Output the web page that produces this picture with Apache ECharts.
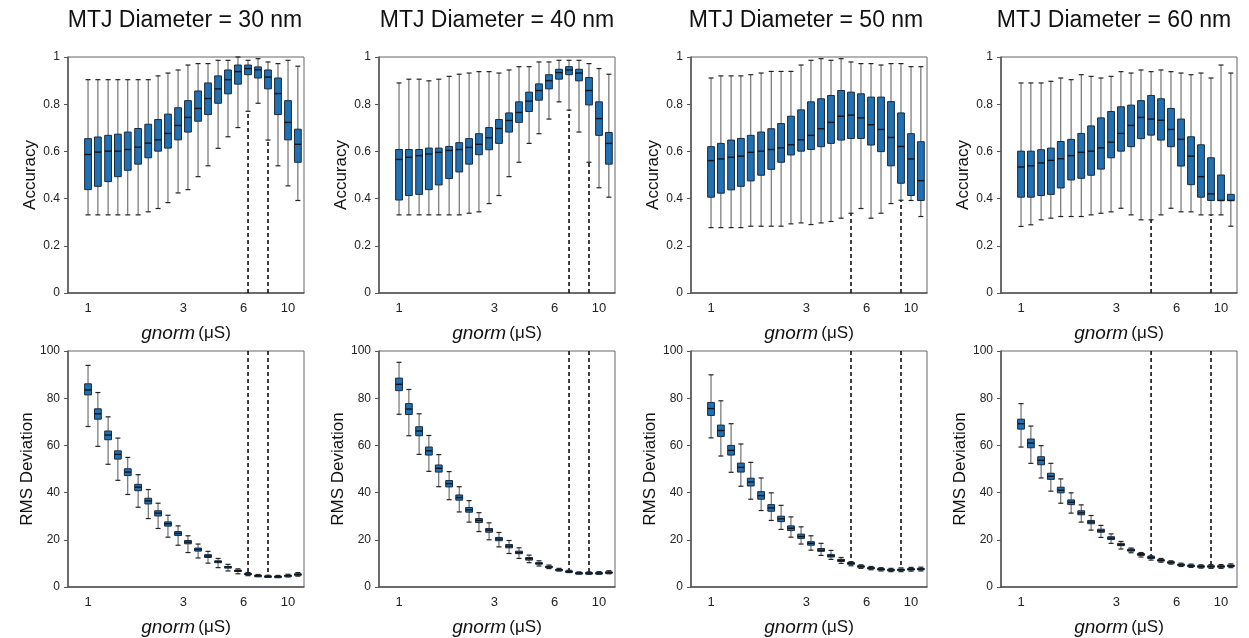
<!DOCTYPE html>
<html><head><meta charset="utf-8">
<script src="https://cdn.jsdelivr.net/npm/echarts@6/dist/echarts.min.js"></script>
<style>html,body{margin:0;padding:0;background:#fff}#c{width:1249px;height:638px}</style>
</head><body><div id="c"></div>
<script>
// g_norm values (µS), one per box
const gnorm = [1.00, 1.12, 1.26, 1.41, 1.58, 1.78, 2.00, 2.24, 2.51, 2.82, 3.16, 3.55, 3.98, 4.47, 5.01, 5.62, 6.31, 7.08, 7.94, 8.91, 10.0, 11.2];
const xTickValues = [1, 3, 6, 10];
const diameters = ['30', '40', '50', '60'];
// indices of boxes marked with dashed vertical lines, per diameter
const markedBoxes = [[16, 18], [17, 19], [14, 19], [13, 19]];

// Accuracy boxes: [low whisker, Q1, median, Q3, high whisker]
const acc30 = [[0.331,0.438,0.587,0.654,0.904],[0.331,0.452,0.597,0.661,0.904],[0.331,0.472,0.601,0.668,0.904],[0.331,0.493,0.601,0.673,0.904],[0.331,0.520,0.608,0.682,0.904],[0.331,0.546,0.618,0.697,0.904],[0.344,0.573,0.635,0.715,0.904],[0.358,0.601,0.649,0.735,0.920],[0.383,0.614,0.676,0.758,0.932],[0.424,0.649,0.710,0.785,0.945],[0.438,0.682,0.744,0.815,0.966],[0.493,0.728,0.782,0.856,0.972],[0.539,0.756,0.824,0.890,0.972],[0.613,0.804,0.865,0.920,0.986],[0.662,0.844,0.904,0.945,0.986],[0.701,0.885,0.938,0.966,1.0],[0.770,0.925,0.951,0.966,0.986],[0.804,0.911,0.946,0.958,0.993],[0.648,0.865,0.915,0.945,0.979],[0.539,0.756,0.845,0.911,0.972],[0.454,0.649,0.723,0.815,0.986],[0.392,0.554,0.630,0.694,0.961]];
const acc40 = [[0.331,0.394,0.566,0.608,0.890],[0.331,0.413,0.575,0.608,0.906],[0.331,0.418,0.582,0.608,0.906],[0.331,0.438,0.589,0.614,0.899],[0.331,0.458,0.596,0.614,0.906],[0.331,0.485,0.604,0.621,0.918],[0.331,0.513,0.608,0.637,0.927],[0.338,0.546,0.617,0.654,0.932],[0.344,0.586,0.630,0.675,0.938],[0.379,0.607,0.658,0.701,0.938],[0.413,0.634,0.697,0.735,0.932],[0.493,0.682,0.731,0.763,0.945],[0.554,0.723,0.765,0.810,0.959],[0.634,0.769,0.813,0.851,0.959],[0.675,0.817,0.858,0.886,0.979],[0.737,0.865,0.900,0.925,0.979],[0.810,0.906,0.934,0.948,0.986],[0.775,0.925,0.945,0.959,0.986],[0.682,0.899,0.932,0.948,0.986],[0.554,0.797,0.858,0.913,0.972],[0.446,0.668,0.739,0.810,0.951],[0.406,0.546,0.634,0.680,0.927]];
const acc50 = [[0.277,0.406,0.561,0.620,0.911],[0.277,0.423,0.568,0.634,0.920],[0.277,0.437,0.575,0.648,0.920],[0.277,0.452,0.580,0.655,0.920],[0.283,0.475,0.596,0.668,0.925],[0.283,0.499,0.601,0.682,0.932],[0.283,0.524,0.608,0.696,0.939],[0.283,0.554,0.615,0.718,0.939],[0.293,0.585,0.628,0.749,0.939],[0.297,0.601,0.649,0.776,0.966],[0.290,0.608,0.668,0.810,0.986],[0.297,0.620,0.696,0.823,0.993],[0.303,0.634,0.723,0.837,0.986],[0.317,0.648,0.749,0.858,0.993],[0.338,0.655,0.754,0.851,0.979],[0.358,0.655,0.742,0.844,0.972],[0.317,0.627,0.713,0.830,0.972],[0.338,0.599,0.693,0.830,0.966],[0.379,0.539,0.659,0.811,0.972],[0.393,0.465,0.621,0.763,0.972],[0.392,0.413,0.568,0.675,0.959],[0.324,0.392,0.476,0.641,0.959]];
const acc60 = [[0.282,0.406,0.534,0.601,0.890],[0.289,0.406,0.539,0.601,0.890],[0.310,0.413,0.551,0.607,0.890],[0.317,0.418,0.562,0.614,0.897],[0.324,0.445,0.569,0.642,0.911],[0.324,0.479,0.582,0.651,0.904],[0.324,0.486,0.596,0.676,0.925],[0.331,0.499,0.601,0.708,0.918],[0.338,0.525,0.615,0.742,0.911],[0.344,0.573,0.639,0.769,0.918],[0.359,0.601,0.676,0.789,0.938],[0.331,0.620,0.710,0.796,0.932],[0.310,0.654,0.744,0.815,0.945],[0.310,0.669,0.737,0.837,0.938],[0.331,0.648,0.732,0.823,0.945],[0.359,0.620,0.693,0.782,0.938],[0.344,0.538,0.651,0.737,0.932],[0.344,0.459,0.580,0.662,0.925],[0.331,0.406,0.493,0.628,0.932],[0.331,0.392,0.420,0.573,0.911],[0.331,0.392,0.392,0.500,0.966],[0.283,0.392,0.392,0.418,0.932]];

// RMS deviation boxes: [low whisker, Q1, median, Q3, high whisker]
const rms30 = [[68.0,81.4,83.5,86.1,93.9],[59.6,71.1,73.4,75.5,82.4],[52.0,62.4,64.4,66.1,72.1],[45.2,54.2,56.2,57.7,63.1],[39.2,47.2,48.7,50.1,54.9],[33.8,40.8,42.3,43.5,47.6],[29.0,35.2,36.5,37.6,41.3],[24.8,30.1,31.3,32.3,35.5],[21.1,25.8,26.8,27.6,30.4],[17.7,21.8,22.7,23.5,25.9],[14.6,18.3,19.0,19.7,21.7],[12.3,15.2,15.9,16.5,18.2],[10.1,12.5,13.1,13.7,15.1],[8.2,10.3,10.7,11.1,12.1],[6.8,8.0,8.5,8.7,9.6],[5.6,6.6,6.9,7.2,7.7],[4.8,5.2,5.5,5.8,6.1],[4.4,4.6,4.8,5.0,5.3],[4.1,4.3,4.5,4.7,5.0],[4.0,4.2,4.4,4.6,4.9],[4.3,4.6,4.8,5.0,5.4],[4.6,5.0,5.3,5.6,6.1]];
const rms40 = [[73.2,83.2,85.9,88.5,95.2],[64.1,73.1,75.4,77.7,83.7],[56.2,64.1,66.1,67.9,73.4],[49.0,55.9,57.7,59.3,64.2],[42.5,48.7,50.3,51.7,56.1],[37.0,42.4,43.8,45.1,48.9],[31.8,36.8,37.9,39.0,42.5],[27.5,31.7,32.7,33.7,36.6],[23.5,27.3,28.2,29.0,31.5],[20.0,23.2,24.1,24.8,27.2],[17.0,19.6,20.3,21.0,23.1],[14.2,16.6,17.3,18.0,19.7],[12.1,14.1,14.6,15.2,16.6],[10.3,11.4,12.0,12.5,13.5],[8.9,9.7,10.0,10.3,11.1],[7.8,8.2,8.5,8.8,9.3],[6.8,7.1,7.3,7.5,7.9],[6.1,6.4,6.6,6.8,7.1],[5.5,5.7,5.9,6.1,6.4],[5.4,5.7,5.9,6.1,6.4],[5.4,5.7,5.9,6.1,6.5],[5.6,6.0,6.2,6.4,6.9]];
const rms50 = [[63.2,72.7,75.6,78.2,89.9],[55.5,63.8,66.3,68.6,78.9],[48.6,55.9,57.9,60.0,69.2],[42.7,48.7,50.7,52.5,60.6],[37.2,42.8,44.5,46.1,52.8],[32.4,37.2,38.7,40.4,46.2],[28.2,32.1,33.5,34.9,39.9],[24.4,27.7,28.9,30.0,34.6],[21.1,23.9,24.9,25.9,29.7],[18.2,20.6,21.4,22.4,25.5],[15.6,17.7,18.5,19.2,21.7],[13.4,15.1,15.6,16.3,18.5],[11.7,12.7,13.2,13.8,15.5],[10.0,10.8,11.3,11.7,12.5],[9.0,9.6,10.0,10.4,10.7],[7.9,8.4,8.7,9.0,9.4],[7.3,7.7,8.0,8.3,8.7],[6.8,7.2,7.5,7.8,8.2],[6.5,6.9,7.2,7.5,7.9],[6.5,7.0,7.3,7.6,8.1],[6.7,7.2,7.5,7.8,8.3],[6.8,7.3,7.6,7.9,8.4]];
const rms60 = [[59.3,66.9,69.2,71.1,77.7],[52.4,59.0,61.0,62.7,68.2],[46.2,51.8,53.7,55.2,59.9],[40.6,45.6,46.9,48.2,52.4],[35.5,39.9,41.0,42.3,45.8],[31.3,34.9,35.9,36.9,39.9],[27.5,30.6,31.4,32.3,34.8],[24.1,26.8,27.5,28.2,30.3],[21.0,23.2,23.8,24.5,26.1],[18.5,20.1,20.7,21.3,22.5],[16.1,17.5,17.9,18.5,19.3],[14.5,15.2,15.6,16.1,16.5],[12.7,13.4,13.8,14.2,14.6],[11.4,12.1,12.5,13.0,13.2],[10.5,11.0,11.3,11.6,12.1],[9.7,10.1,10.4,10.7,11.1],[8.7,9.1,9.4,9.7,10.1],[8.3,8.7,9.0,9.3,9.7],[8.0,8.4,8.7,9.0,9.4],[7.9,8.4,8.7,9.0,9.5],[7.9,8.4,8.7,9.0,9.5],[8.2,8.7,9.0,9.3,9.8]];

const accSets = [acc30, acc40, acc50, acc60];
const rmsSets = [rms30, rms40, rms50, rms60];

const FONT = '"Liberation Sans", Arial, Helvetica, sans-serif';
const panelLefts = [68, 379, 691, 1001];
const panelW = 236, panelH = 236;
const rowTops = [57, 351];

const chart = echarts.init(document.getElementById('c'), null, {renderer: 'canvas'});

function makeRender(isTop, marks) {
  return function (params, api) {
    const g = api.value(0);
    const pLo = api.coord([g, api.value(1)]);
    const pQ1 = api.coord([g, api.value(2)]);
    const pMd = api.coord([g, api.value(3)]);
    const pQ3 = api.coord([g, api.value(4)]);
    const pHi = api.coord([g, api.value(5)]);
    const x = pLo[0];
    const hw = 3.4, cw = 2.5;
    const ch = [];
    if (marks.indexOf(params.dataIndex) >= 0) {
      if (isTop) {
        const p0 = api.coord([g, 0]);
        ch.push({type: 'line', shape: {x1: x, y1: p0[1], x2: x, y2: pLo[1]}, style: {stroke: '#111', lineWidth: 1.6, lineDash: [4, 3]}});
      } else {
        const p1 = api.coord([g, 100]);
        ch.push({type: 'line', shape: {x1: x, y1: p1[1], x2: x, y2: pHi[1]}, style: {stroke: '#111', lineWidth: 1.6, lineDash: [4, 3]}});
      }
    }
    ch.push({type: 'line', shape: {x1: x, y1: pLo[1], x2: x, y2: pHi[1]}, style: {stroke: '#555', lineWidth: 1}});
    ch.push({type: 'line', shape: {x1: x - cw, y1: pLo[1], x2: x + cw, y2: pLo[1]}, style: {stroke: '#222', lineWidth: 1.2}});
    ch.push({type: 'line', shape: {x1: x - cw, y1: pHi[1], x2: x + cw, y2: pHi[1]}, style: {stroke: '#222', lineWidth: 1.2}});
    ch.push({type: 'rect', shape: {x: x - hw, y: pQ3[1], width: 2 * hw, height: Math.max(pQ1[1] - pQ3[1], 1.5)}, style: {fill: '#2170b2', stroke: '#1a2a3c', lineWidth: 1}});
    ch.push({type: 'line', shape: {x1: x - hw, y1: pMd[1], x2: x + hw, y2: pMd[1]}, style: {stroke: '#0d1620', lineWidth: 1.4}});
    return {type: 'group', children: ch};
  };
}

const grids = [], xAxes = [], yAxes = [], series = [], titles = [];
for (let r = 0; r < 2; r++) {
  for (let c = 0; c < 4; c++) {
    const idx = r * 4 + c;
    const isTop = r === 0;
    grids.push({left: panelLefts[c], top: rowTops[r], width: panelW, height: panelH, show: true, borderColor: '#666', borderWidth: 1, backgroundColor: 'transparent'});
    xAxes.push({
      gridIndex: idx, type: 'log', logBase: 10, min: 0.794, max: 12.02,
      axisLine: {show: true, lineStyle: {color: '#555', width: 1.5}},
      axisTick: {show: false},
      splitLine: {show: false}, minorTick: {show: false},
      axisLabel: {customValues: xTickValues, color: '#222', fontSize: 13, fontFamily: FONT, margin: 9, formatter: v => String(Math.round(v))},
      name: '{i|gnorm} {n|(μS)}', nameLocation: 'middle', nameGap: 31,
      nameTextStyle: {rich: {i: {fontStyle: 'italic', fontSize: 19, fontFamily: FONT, color: '#111'}, n: {fontSize: 17, fontFamily: FONT, color: '#111'}}}
    });
    yAxes.push({
      gridIndex: idx, type: 'value', min: 0, max: isTop ? 1 : 100, interval: isTop ? 0.2 : 20,
      axisLine: {show: true, lineStyle: {color: '#555', width: 1.5}},
      axisTick: {show: true, length: 4, lineStyle: {color: '#555'}},
      splitLine: {show: false},
      axisLabel: {color: '#222', fontSize: 12, fontFamily: FONT, margin: 8},
      name: isTop ? 'Accuracy' : 'RMS Deviation', nameLocation: 'middle', nameGap: 29,
      nameTextStyle: {fontSize: 17, fontFamily: FONT, color: '#111'}
    });
    const src = isTop ? accSets[c] : rmsSets[c];
    series.push({
      type: 'custom', xAxisIndex: idx, yAxisIndex: idx,
      renderItem: makeRender(isTop, markedBoxes[c]),
      encode: {x: 0, y: [1, 2, 3, 4, 5]},
      data: src.map((b, i) => [gnorm[i], b[0], b[1], b[2], b[3], b[4]]),
      clip: false, silent: true
    });
  }
}
const titleCenters = [180, 492, 801, 1109];
for (let c = 0; c < 4; c++) {
  titles.push({text: 'MTJ Diameter = ' + diameters[c] + ' nm', left: titleCenters[c], top: 4, textAlign: 'center',
    textStyle: {fontSize: 23, fontWeight: 'normal', fontFamily: FONT, color: '#111'}});
}

chart.setOption({
  animation: false,
  backgroundColor: '#fff',
  title: titles,
  grid: grids, xAxis: xAxes, yAxis: yAxes, series: series
});
</script>
</body></html>
